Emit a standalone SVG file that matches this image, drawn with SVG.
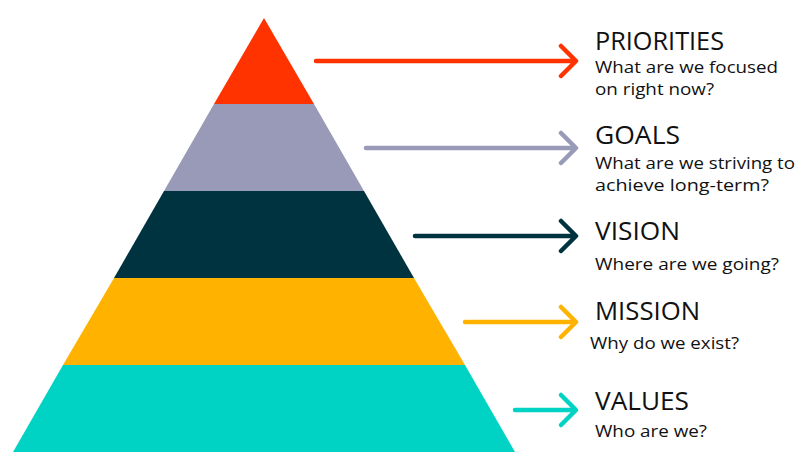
<svg xmlns="http://www.w3.org/2000/svg" width="812" height="467" viewBox="0 0 812 467">
<style>
.t{font-family:"Open Sans","Liberation Sans",sans-serif;font-size:25px;fill:#111}
.s{font-family:"Open Sans","Liberation Sans",sans-serif;font-size:17px;fill:#111}
.c{fill:none;stroke-width:4.5;stroke-linecap:round;stroke-linejoin:round}
</style>
<rect width="812" height="467" fill="#fff"/>
<g id="pyramid">
<g id="priorities-band"><polygon points="264,18 314,104 214,104" fill="#FF3300"/></g>
<g id="goals-band"><polygon points="214,104 314,104 364,191 164,191" fill="#9999B8"/></g>
<g id="vision-band"><polygon points="164,191 364,191 414,278 114,278" fill="#003340"/></g>
<g id="mission-band"><polygon points="114,278 414,278 465,365 63,365" fill="#FFB300"/></g>
<g id="values-band"><polygon points="63,365 465,365 515,452 13,452" fill="#00D3C4"/></g>
</g>
<g id="connectors">
<path class="c" stroke="#FF3300" d="M316,61 H575 M561,46 L576,61 L561,76"/>
<path class="c" stroke="#9999B8" d="M366,148 H575 M561,133 L576,148 L561,163"/>
<path class="c" stroke="#003340" d="M415,236 H575 M561,221 L576,236 L561,251"/>
<path class="c" stroke="#FFB300" d="M465,322 H575 M561,307 L576,322 L561,337"/>
<path class="c" stroke="#00D3C4" d="M515,410 H575 M561,395 L576,410 L561,425"/>
</g>
<g id="label-priorities">
<text class="t" x="595" y="50" textLength="129" lengthAdjust="spacingAndGlyphs">PRIORITIES</text>
<text class="s" x="595" y="73" textLength="183" lengthAdjust="spacingAndGlyphs">What are we focused</text>
<text class="s" x="595" y="95" textLength="119" lengthAdjust="spacingAndGlyphs">on right now?</text>
</g>
<g id="label-goals">
<text class="t" x="595" y="144" textLength="85" lengthAdjust="spacingAndGlyphs">GOALS</text>
<text class="s" x="595" y="169" textLength="200" lengthAdjust="spacingAndGlyphs">What are we striving to</text>
<text class="s" x="595" y="191" textLength="174" lengthAdjust="spacingAndGlyphs">achieve long-term?</text>
</g>
<g id="label-vision">
<text class="t" x="595" y="240" textLength="85" lengthAdjust="spacingAndGlyphs">VISION</text>
<text class="s" x="595" y="270" textLength="184" lengthAdjust="spacingAndGlyphs">Where are we going?</text>
</g>
<g id="label-mission">
<text class="t" x="595" y="320" textLength="105" lengthAdjust="spacingAndGlyphs">MISSION</text>
<text class="s" x="590" y="349" textLength="149" lengthAdjust="spacingAndGlyphs">Why do we exist?</text>
</g>
<g id="label-values">
<text class="t" x="595" y="410" textLength="94" lengthAdjust="spacingAndGlyphs">VALUES</text>
<text class="s" x="595" y="437" textLength="112" lengthAdjust="spacingAndGlyphs">Who are we?</text>
</g>
</svg>
